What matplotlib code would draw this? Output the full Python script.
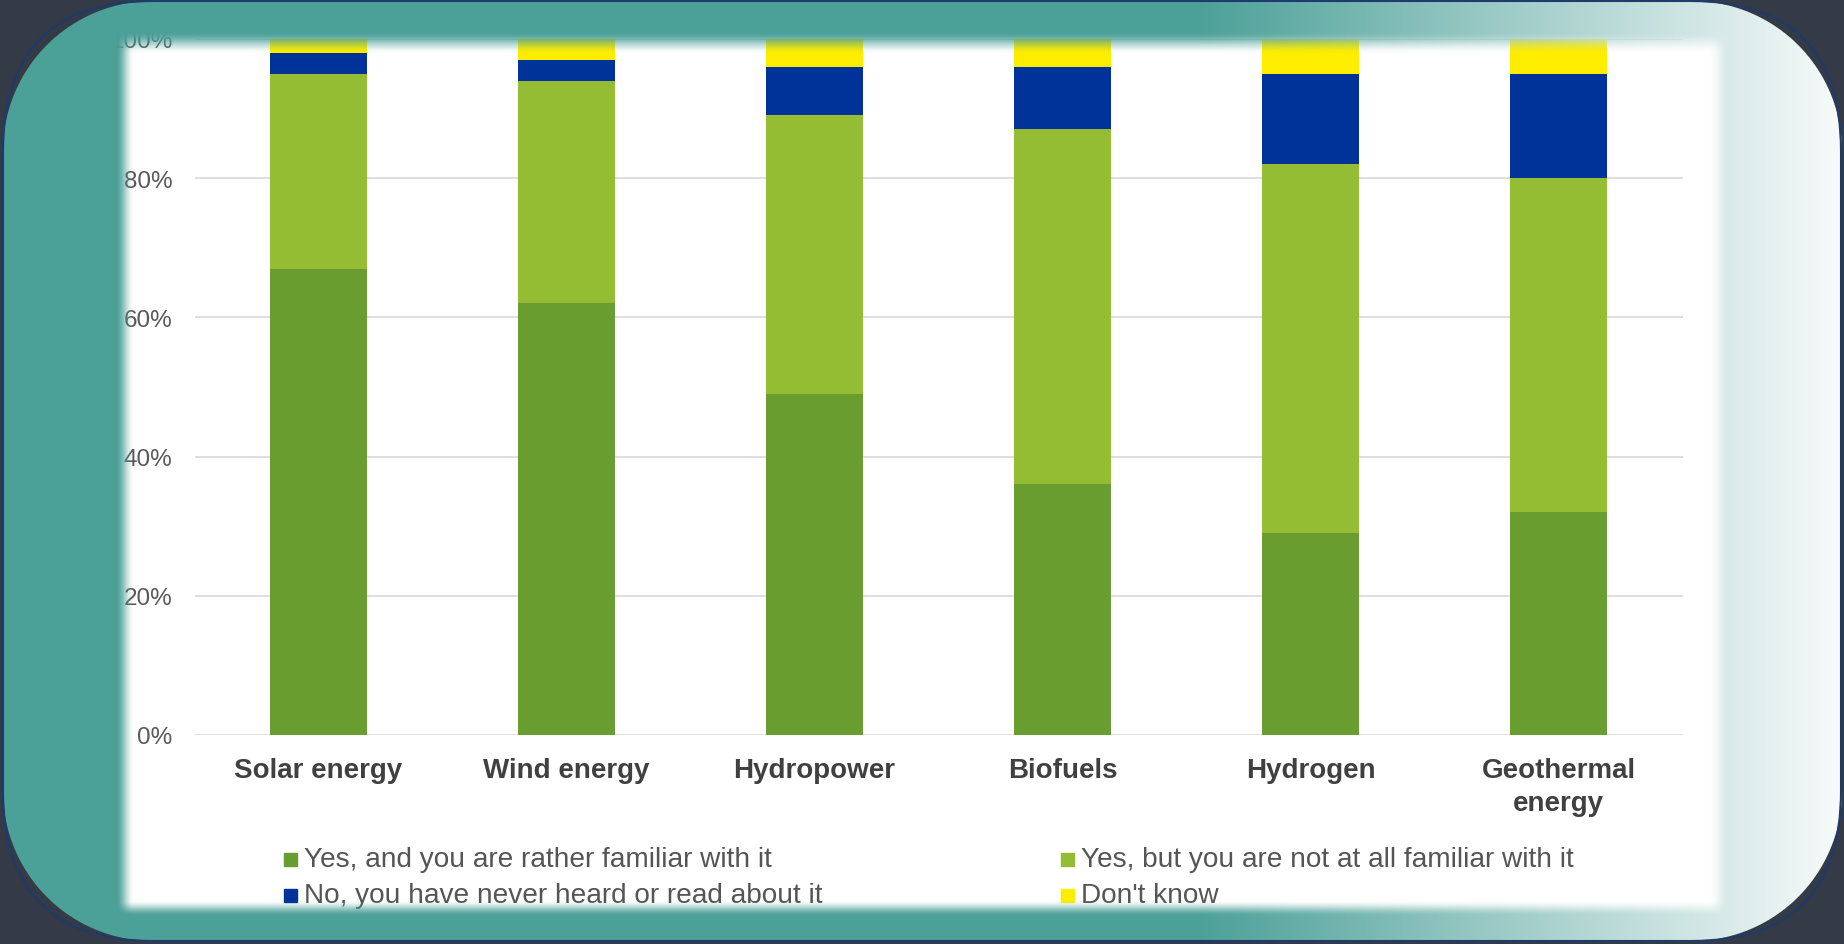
import numpy as np
import matplotlib.pyplot as plt
from matplotlib.patches import Rectangle, FancyBboxPatch

categories = ['Solar energy', 'Wind energy', 'Hydropower', 'Biofuels', 'Hydrogen', 'Geothermal\nenergy']
familiar = [67, 62, 49, 36, 29, 32]
not_familiar = [28, 32, 40, 51, 53, 48]
never_heard = [3, 3, 7, 9, 13, 15]
dont_know = [2, 3, 4, 4, 5, 5]
series_labels = ['Yes, and you are rather familiar with it',
				 'Yes, but you are not at all familiar with it',
				 'No, you have never heard or read about it',
				 "Don't know"]
series_colors = ['#6a9d2f', '#94bd33', '#003399', '#ffed00']
y_ticks = [0, 20, 40, 60, 80, 100]

W, H = 1844, 945

plt.rcParams['font.family'] = ['Liberation Sans', 'DejaVu Sans']


def ramp(d, hw):
	t = np.clip((d + hw) / (2 * hw), 0, 1)
	return t * t * (3 - 2 * t)


def add_frame(fig):
	# teal rounded card with a soft white panel on top of the chart
	ov = fig.add_axes([0, 0, 1, 1], zorder=10)
	yy, xx = np.mgrid[0:H, 0:W] + 0.5
	panel = ramp(xx - 125, 9) * ramp(1718 - xx, 10) * ramp(yy - 44, 11) * ramp(909 - yy, 8)

	x0, x1, y0, y1, r = 3, 1841, 2, 942, 150
	cx, cy = (x0 + x1) / 2, (y0 + y1) / 2
	qx = np.maximum(np.abs(xx - cx) - ((x1 - x0) / 2 - r), 0)
	qy = np.maximum(np.abs(yy - cy) - ((y1 - y0) / 2 - r), 0)
	inside = np.clip(0.5 - (np.hypot(qx, qy) - r), 0, 1)

	t = np.clip((xx - 1195) / (1850 - 1195), 0, 1)[..., None]
	teal = np.array([75, 160, 152]) / 255
	light = np.array([250, 252, 252]) / 255
	dark = np.array([52, 58, 70]) / 255
	grad = teal * (1 - t) + light * t

	a_teal = inside * (1 - panel)
	a_dark = 1 - inside
	alpha = a_teal + a_dark
	rgb = (grad * a_teal[..., None] + dark * a_dark[..., None]) / np.maximum(alpha, 1e-6)[..., None]
	img = np.dstack([rgb, alpha])

	ov.imshow(img, extent=(0, W, H, 0), interpolation='nearest', aspect='auto')
	ov.add_patch(FancyBboxPatch((x0, y0), x1 - x0, y1 - y0,
								boxstyle='round,pad=0,rounding_size=150',
								fill=False, edgecolor='#1f3b6c', linewidth=1.5))
	ov.set_xlim(0, W)
	ov.set_ylim(H, 0)
	ov.axis('off')


fig = plt.figure(figsize=(W / 100, H / 100), dpi=100, facecolor='white')
ax = fig.add_axes([194.5 / W, 1 - 736 / H, 1488 / W, 696.25 / H])
ax.set_facecolor('none')

x = np.arange(len(categories))
bottom = np.zeros(len(categories))
for vals, col in zip([familiar, not_familiar, never_heard, dont_know], series_colors):
	ax.bar(x, vals, 0.39, bottom=bottom, color=col, zorder=2)
	bottom += np.array(vals)

ax.set_xlim(-0.5, len(categories) - 0.5)
ax.set_ylim(0, 100)
ax.set_yticks(y_ticks)
ax.set_yticklabels([f'{v}%' for v in y_ticks], fontsize=17.5, color='#595959')
ax.yaxis.grid(True, color='#d9d9d9', linewidth=1.2, zorder=0)
ax.set_axisbelow(True)
ax.tick_params(axis='y', length=0, pad=16)
ax.set_xticks(x)
ax.set_xticklabels(categories, fontsize=20, fontweight='bold', color='#404040', linespacing=1.32)
ax.tick_params(axis='x', length=0, pad=16)
for s in ax.spines.values():
	s.set_visible(False)

# legend, two columns
sq_x = [284, 1061]
txt_x = [304, 1081]
base_y = [867, 903]
for i, (lab, col) in enumerate(zip(series_labels, series_colors)):
	c, rw = i % 2, i // 2
	fig.patches.append(Rectangle((sq_x[c] / W, 1 - base_y[rw] / H), 13 / W, 13 / H,
								 transform=fig.transFigure, color=col))
	fig.text(txt_x[c] / W, 1 - base_y[rw] / H, lab, fontsize=20.2, color='#555555', va='baseline')

add_frame(fig)

fig.savefig('out.png', dpi=100)
